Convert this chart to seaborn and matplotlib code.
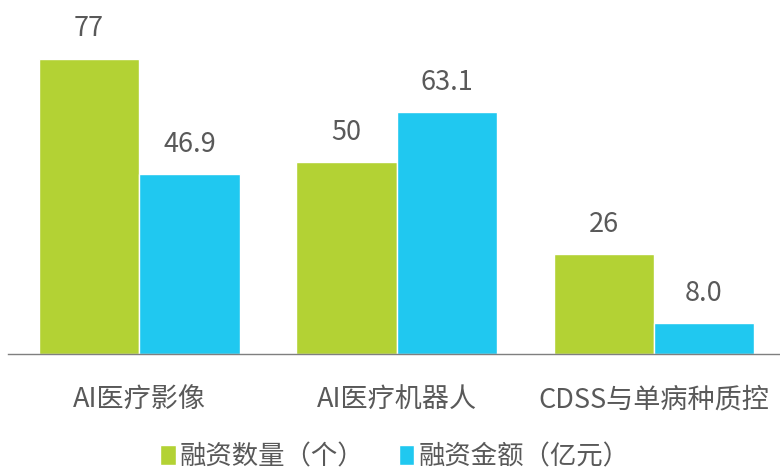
import pandas as pd
import matplotlib
matplotlib.use("Agg")
import matplotlib.pyplot as plt
import seaborn as sns

categories = ["AI医疗影像", "AI医疗机器人", "CDSS与单病种质控"]
series_names = ["融资数量（个）", "融资金额（亿元）"]
deal_counts = [77, 50, 26]
deal_amounts = [46.9, 63.1, 8.0]

colors = ["#B3D234", "#20C8F0"]
text_color = "#595959"

sns.set_theme(style="white")
plt.rcParams["font.family"] = ["Noto Sans CJK SC", "DejaVu Sans"]

df = pd.DataFrame({
    "category": categories * 2,
    "value": deal_counts + deal_amounts,
    "series": [series_names[0]] * 3 + [series_names[1]] * 3,
})

fig = plt.figure(figsize=(7.8, 4.74), dpi=100)
ax = fig.add_axes([8 / 780, 120 / 474, 772 / 780, 354 / 474])

sns.barplot(data=df, x="category", y="value", hue="series", palette=colors,
            width=0.78, gap=0, saturation=1, ax=ax)

# Värdeetiketter ovanför staplarna
fmts = ["{:.0f}", "{:.1f}"]
for cont, fmt in zip(ax.containers, fmts):
    ax.bar_label(cont, labels=[fmt.format(b.get_height()) for b in cont],
                 padding=12, fontsize=19.5, color=text_color)

ax.set_xlim(-0.51, 2.49)
ax.set_ylim(0, 92.4)
ax.set_xlabel("")
ax.set_ylabel("")
ax.set_yticks([])
for side in ["top", "left", "right"]:
    ax.spines[side].set_visible(False)
ax.spines["bottom"].set_color("#7F7F7F")
ax.spines["bottom"].set_linewidth(1)
ax.tick_params(axis="x", length=0, pad=23, labelsize=19.5, labelcolor=text_color)

ax.legend(loc="center", bbox_to_anchor=(0.506, 0.036), bbox_transform=fig.transFigure,
          ncol=2, frameon=False, fontsize=19, labelcolor=text_color,
          handlelength=0.6, handleheight=0.8, handletextpad=0.15, columnspacing=1.3,
          borderpad=0.1)

fig.savefig("out.png", dpi=100)
plt.close(fig)
